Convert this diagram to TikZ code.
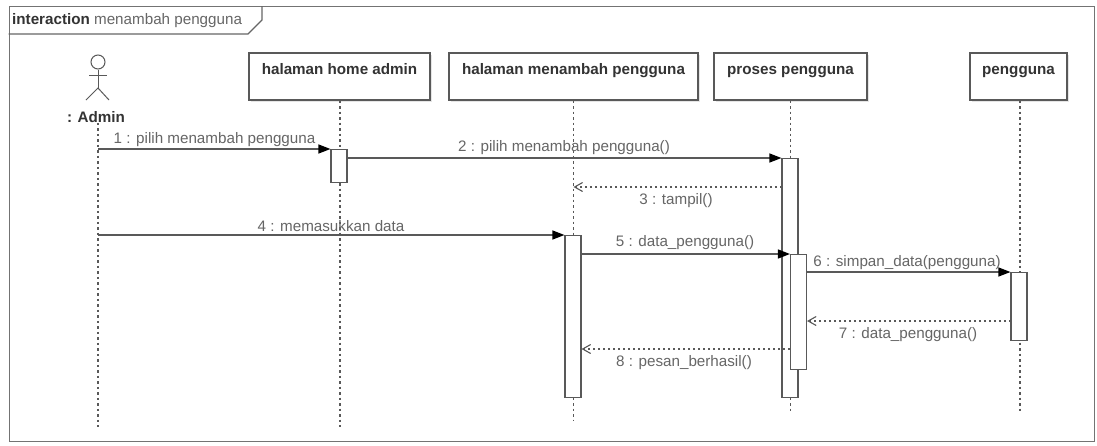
\documentclass[tikz,border=0pt]{standalone}
\usepackage{fontspec}
\setmainfont{Liberation Sans}
\usetikzlibrary{positioning}
\usetikzlibrary{arrows.meta}
\usetikzlibrary{shadows}
\definecolor{lineGray}{HTML}{595959}
\definecolor{textGray}{HTML}{666666}
\tikzset{
    objFrame/.style={rectangle, draw=black!55, line width=1.4pt, minimum width=1085pt, minimum height=435pt, anchor=north west},
    objLifeBox/.style={rectangle, draw=lineGray, line width=1.1pt, fill=white, minimum height=47pt, text depth=16pt, text height=11pt, inner sep=0pt, font=\fontsize{15.2}{17}\selectfont\bfseries, text=black!80, drop shadow={shadow xshift=2pt, shadow yshift=-2pt, opacity=0.2}},
    objActivation/.style={rectangle, draw=lineGray, line width=1.1pt, fill=white, minimum width=16pt, inner sep=0pt, anchor=north},
    objMessage/.style={font=\fontsize{15.2}{17}\selectfont, text=textGray, inner sep=0pt},
    objLifeline/.style={draw=lineGray, line width=1.1pt, dash pattern=on 2.5pt off 3pt},
    arrow/.style={draw=lineGray, line width=1.2pt, -{Triangle[length=12pt, width=9pt, color=black]}},
    arrowReturn/.style={draw=lineGray, line width=1.1pt, dash pattern=on 2.5pt off 2.5pt, -{Straight Barb[length=8pt, width=9pt, color=lineGray]}}
}
\begin{document}
\begin{tikzpicture}[x=1pt, y=-1pt, node distance=10pt]
  \useasboundingbox (0,0) rectangle (1097,445);
  \fill[white] (0,0) rectangle (1097,445);

  % frame and its tab
  \node (frame) [objFrame] at (8.5,6) {};
  \coordinate (tabA) at (8.5,34);
  \coordinate (tabB) at (248,34);
  \coordinate (tabC) at (262,20);
  \coordinate (tabD) at (262,6);
  \draw[draw=black!60, line width=1.4pt] (tabA) -- (tabB) -- (tabC) -- (tabD);
  \node (frameLabel) [objMessage, anchor=west] at (12,21) {\textcolor{black!80}{\bfseries interaction} menambah pengguna};

  % lifeline boxes
  \node (box1) [objLifeBox, minimum width=181pt] at (339.5,76.5) {halaman home admin};
  \node (box2) [objLifeBox, minimum width=249pt, right of=box1, xshift=224pt] {halaman menambah pengguna};
  \node (box3) [objLifeBox, minimum width=153pt, right of=box2, xshift=207pt] {proses pengguna};
  \node (box4) [objLifeBox, minimum width=97pt, right of=box3, xshift=218pt] {pengguna};

  % actor
  \node (adminHead) [circle, draw=lineGray, line width=1pt, minimum size=14pt, inner sep=0pt] at (98,62) {};
  \coordinate (adminHip) at (98,88);
  \coordinate (adminArmL) at (89,75);
  \coordinate (adminArmR) at (107,75);
  \coordinate (adminLegL) at (86,100);
  \coordinate (adminLegR) at (109,100);
  \draw[draw=lineGray, line width=1pt] (adminHead) -- (adminHip);
  \draw[draw=lineGray, line width=1pt] (adminArmL) -- (adminArmR);
  \draw[draw=lineGray, line width=1pt] (adminLegL) -- (adminHip) -- (adminLegR);
  \node (admin) [objMessage, font=\fontsize{15.2}{17}\selectfont\bfseries, text=black!80] at (96,117) {: Admin};

  % lifelines
  \coordinate (endAdmin) at (98,427);
  \coordinate (endBox1) at (340,427);
  \coordinate (endBox2) at (573.5,420);
  \coordinate (endBox3) at (790.5,412);
  \coordinate (endBox4) at (1020,412);
  \draw[objLifeline] (admin.south -| endAdmin) -- (endAdmin);
  \draw[objLifeline] (box1.south -| endBox1) -- (endBox1);
  \draw[objLifeline] (box2.south -| endBox2) -- (endBox2);
  \draw[objLifeline] (box3.south -| endBox3) -- (endBox3);
  \draw[objLifeline] (box4.south -| endBox4) -- (endBox4);

  % activations
  \node (actHome) [objActivation, minimum height=33pt] at (339,149) {};
  \node (actTambah) [objActivation, minimum height=162pt] at (573,235) {};
  \node (actProses) [objActivation, minimum height=239pt] at (790,158) {};
  \node (actProsesB) [objActivation, minimum height=115pt] at (798.5,254) {};
  \node (actData) [objActivation, minimum height=68pt] at (1019,272) {};

  % messages
  \coordinate (m1) at (98,149);
  \coordinate (m4) at (98,235);
  \coordinate (m3) at (782,187);
  \coordinate (m3end) at (573.5,187);
  \coordinate (m7) at (1011,321);
  \coordinate (m8) at (790,349);
  \draw[arrow] (m1) -- (actHome.north west);
  \draw[arrow] (actHome.east |- actProses.north) -- (actProses.north west);
  \draw[arrowReturn] (m3) -- (m3end);
  \draw[arrow] (m4) -- (actTambah.north west);
  \draw[arrow] (actTambah.east |- actProsesB.north) -- (actProsesB.north west);
  \draw[arrow] (actProsesB.east |- actData.north) -- (actData.north west);
  \draw[arrowReturn] (m7) -- (actProsesB.east |- m7);
  \draw[arrowReturn] (m8) -- (actTambah.east |- m8);

  % labels
  \node (lbl1) [objMessage] at (214.5,140) {1 : pilih menambah pengguna};
  \node (lbl2) [objMessage] at (564,148) {2 : pilih menambah pengguna()};
  \node (lbl3) [objMessage] at (676,201) {3 : tampil()};
  \node (lbl4) [objMessage] at (331,226) {4 : memasukkan data};
  \node (lbl5) [objMessage] at (685,243) {5 : data\_pengguna()};
  \node (lbl6) [objMessage] at (907,263) {6 : simpan\_data(pengguna)};
  \node (lbl7) [objMessage] at (908,335) {7 : data\_pengguna()};
  \node (lbl8) [objMessage] at (684,363) {8 : pesan\_berhasil()};
\end{tikzpicture}
\end{document}
